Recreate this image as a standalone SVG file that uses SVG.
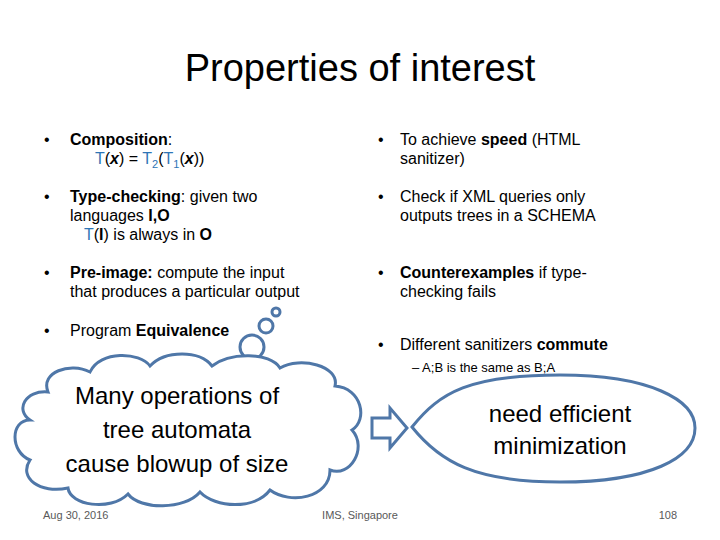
<svg xmlns="http://www.w3.org/2000/svg" width="720" height="540" viewBox="0 0 720 540">
<style>
text{font-family:"Liberation Sans",Arial,sans-serif;fill:#000}
.b{font-size:16px}
.bl{fill:#2e75b6}
.sh{fill:none;stroke:#4f77a8;stroke-width:3}
.big{font-size:24px;text-anchor:middle}
</style>
<rect width="720" height="540" fill="#fff"/>
<text x="360" y="81" font-size="38" text-anchor="middle">Properties of interest</text>
<g id="left">
<text class="b" x="44" y="145">•</text><text class="b" x="70" y="145"><tspan font-weight="bold">Composition</tspan>:</text>
<text class="b" x="95" y="164"><tspan class="bl">T</tspan>(<tspan font-weight="bold" font-style="italic">x</tspan>) = <tspan class="bl">T<tspan font-size="11" dy="4">2</tspan></tspan><tspan dy="-4">(</tspan><tspan class="bl">T<tspan font-size="11" dy="4">1</tspan></tspan><tspan dy="-4">(</tspan><tspan font-weight="bold" font-style="italic">x</tspan>))</text>
<text class="b" x="44" y="202">•</text><text class="b" x="70" y="202"><tspan font-weight="bold">Type-checking</tspan>: given two</text>
<text class="b" x="70" y="221">languages <tspan font-weight="bold">I,O</tspan></text>
<text class="b" x="84" y="240"><tspan class="bl">T</tspan>(<tspan font-weight="bold">I</tspan>)  is always in <tspan font-weight="bold">O</tspan></text>
<text class="b" x="44" y="278">•</text><text class="b" x="70" y="278"><tspan font-weight="bold">Pre-image:</tspan> compute the input</text>
<text class="b" x="70" y="297">that produces a particular output</text>
<text class="b" x="44" y="336">•</text><text class="b" x="70" y="336">Program <tspan font-weight="bold">Equivalence</tspan></text>
</g>
<g id="right">
<text class="b" x="378" y="145">•</text><text class="b" x="400" y="145">To achieve <tspan font-weight="bold">speed</tspan> (HTML</text>
<text class="b" x="400" y="164">sanitizer)</text>
<text class="b" x="378" y="202">•</text><text class="b" x="400" y="202">Check if XML queries only</text>
<text class="b" x="400" y="221">outputs trees in a SCHEMA</text>
<text class="b" x="378" y="278">•</text><text class="b" x="400" y="278"><tspan font-weight="bold">Counterexamples</tspan> if type-</text>
<text class="b" x="400" y="297">checking fails</text>
<text class="b" x="378" y="350">•</text><text class="b" x="400" y="350">Different sanitizers <tspan font-weight="bold">commute</tspan></text>
<text x="412" y="372" font-size="13">–  A;B is the same as B;A</text>
</g>
<g id="cloud">
<circle class="sh" cx="252" cy="347" r="12"/>
<circle class="sh" cx="266" cy="326" r="7"/>
<circle class="sh" cx="276" cy="312" r="4"/>
<path class="sh" fill="#fff" d="M48,392 C40,372 70,362 90,372 C100,350 140,352 150,366 C165,350 200,350 212,366 C230,352 270,352 280,368 C300,356 340,366 335,386 C362,388 368,420 352,430 C368,448 350,478 330,470 C330,498 290,505 270,490 C255,510 215,508 200,492 C185,510 140,510 128,494 C110,512 70,505 68,488 C40,494 18,478 30,460 C10,452 10,420 30,420 C15,410 25,390 48,392 Z" style="fill:#fff"/>
<text class="big" x="177" y="404">Many operations of</text>
<text class="big" x="177" y="438">tree automata</text>
<text class="big" x="177" y="472">cause blowup of size</text>
</g>
<g id="connectors">
<path class="sh" d="M372,418 H390 V408 L407,428 L390,448 V438 H372 Z"/>
</g>
<g id="oval">
<path class="sh" fill="#fff" d="M412,427 C440,392 470,375 560,375 C650,375 695,400 695,428 C695,458 650,482 560,482 C475,482 440,462 412,427 Z" style="fill:#fff"/>
<text class="big" x="560" y="422">need efficient</text>
<text class="big" x="560" y="454">minimization</text>
</g>
<text x="43" y="519" font-size="11" fill="#595959" style="fill:#595959">Aug 30, 2016</text>
<text x="360" y="519" font-size="11" text-anchor="middle" style="fill:#595959">IMS, Singapore</text>
<text x="677" y="519" font-size="11" text-anchor="end" style="fill:#595959">108</text>
</svg>
